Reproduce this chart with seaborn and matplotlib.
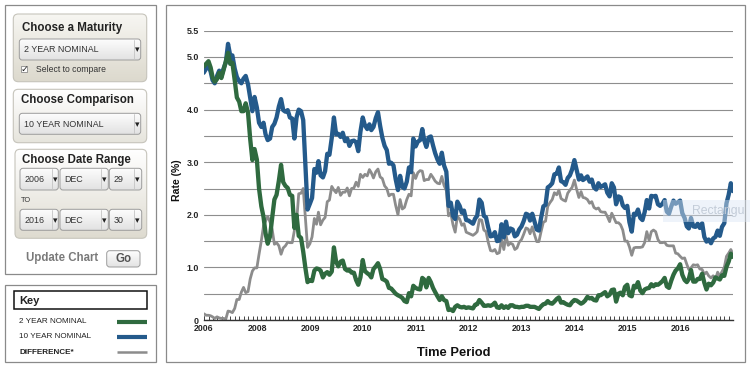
import numpy as np
import pandas as pd
import matplotlib
matplotlib.use('Agg')
import matplotlib.pyplot as plt
import matplotlib.dates as mdates
from matplotlib.patches import FancyBboxPatch, Rectangle
from matplotlib.colors import LinearSegmentedColormap
import seaborn as sns

# Readings from the chart: mid-month and month-end, first point is 2006-12-29
two_year = [4.82,
    4.87, 4.92, 4.80, 4.62, 4.53, 4.58, 4.70, 4.60, 4.75, 4.92, 5.08, 4.87,
    4.89, 4.56, 4.23, 4.15, 3.97, 3.97, 4.12, 3.94, 3.44, 3.04, 3.25, 3.05,
    2.50, 2.16, 1.96, 1.65, 1.45, 1.59, 1.95, 2.29, 2.38, 2.65, 2.95, 2.62,
    2.55, 2.51, 2.38, 2.36, 1.75, 2.00, 1.60, 1.56, 1.30, 0.99, 0.72, 0.76,
    0.74, 0.94, 0.98, 0.97, 0.94, 0.81, 0.88, 0.91, 0.86, 0.92, 1.38, 1.11,
    1.02, 1.11, 1.13, 0.97, 0.94, 0.95, 0.90, 0.90, 0.76, 0.67, 0.81, 1.14,
    0.93, 0.89, 0.86, 0.81, 0.97, 1.02, 1.08, 0.97, 0.78, 0.76, 0.73, 0.61,
    0.60, 0.55, 0.50, 0.47, 0.45, 0.42, 0.36, 0.34, 0.51, 0.45, 0.65, 0.61,
    0.59, 0.58, 0.80, 0.77, 0.62, 0.80, 0.72, 0.61, 0.53, 0.45, 0.38, 0.45,
    0.38, 0.36, 0.19, 0.20, 0.17, 0.25, 0.28, 0.25, 0.24, 0.25, 0.23, 0.24,
    0.23, 0.22, 0.29, 0.30, 0.38, 0.33, 0.27, 0.27, 0.28, 0.27, 0.29, 0.33,
    0.24, 0.23, 0.28, 0.23, 0.26, 0.23, 0.28, 0.28, 0.25, 0.25, 0.24, 0.25,
    0.25, 0.27, 0.27, 0.25, 0.25, 0.25, 0.23, 0.21, 0.26, 0.30, 0.31, 0.36,
    0.32, 0.31, 0.35, 0.40, 0.43, 0.33, 0.34, 0.31, 0.29, 0.28, 0.34, 0.38,
    0.37, 0.34, 0.31, 0.33, 0.37, 0.44, 0.41, 0.42, 0.38, 0.37, 0.47, 0.47,
    0.50, 0.53, 0.45, 0.48, 0.57, 0.58, 0.35, 0.50, 0.52, 0.47, 0.63, 0.67,
    0.47, 0.45, 0.65, 0.62, 0.72, 0.56, 0.51, 0.58, 0.60, 0.61, 0.68, 0.64,
    0.68, 0.67, 0.70, 0.74, 0.80, 0.64, 0.61, 0.75, 0.86, 0.94, 0.98, 1.06,
    0.86, 0.76, 0.72, 0.78, 0.95, 0.73, 0.73, 0.78, 0.78, 0.88, 0.71, 0.58,
    0.69, 0.66, 0.71, 0.81, 0.79, 0.77, 0.85, 0.84, 1.01, 1.11, 1.26, 1.20]

ten_year = [4.70,
    4.78, 4.83, 4.72, 4.56, 4.50, 4.64, 4.74, 4.63, 4.78, 4.90, 5.25, 5.03,
    5.03, 4.78, 4.62, 4.54, 4.50, 4.59, 4.64, 4.48, 4.22, 3.97, 4.24, 4.04,
    3.75, 3.67, 3.75, 3.53, 3.42, 3.45, 3.67, 3.73, 3.85, 4.06, 4.20, 3.99,
    3.96, 3.99, 3.85, 3.83, 3.45, 3.85, 4.00, 3.97, 3.80, 2.93, 2.10, 2.21,
    2.32, 2.87, 2.80, 3.02, 2.75, 2.71, 2.83, 3.16, 3.14, 3.46, 3.85, 3.53,
    3.54, 3.48, 3.56, 3.40, 3.45, 3.31, 3.40, 3.41, 3.38, 3.21, 3.58, 3.85,
    3.70, 3.63, 3.72, 3.61, 3.67, 3.84, 3.95, 3.69, 3.47, 3.31, 3.23, 2.97,
    2.99, 2.94, 2.68, 2.47, 2.74, 2.53, 2.50, 2.63, 2.90, 2.81, 3.45, 3.30,
    3.39, 3.42, 3.63, 3.42, 3.29, 3.47, 3.49, 3.32, 3.17, 3.05, 2.97, 3.18,
    2.94, 2.82, 2.17, 2.23, 1.98, 1.92, 2.25, 2.17, 2.04, 2.08, 1.90, 1.89,
    1.86, 1.83, 1.93, 1.98, 2.29, 2.23, 1.98, 1.95, 1.76, 1.59, 1.60, 1.67,
    1.50, 1.51, 1.82, 1.57, 1.87, 1.65, 1.74, 1.72, 1.59, 1.62, 1.72, 1.78,
    1.88, 2.02, 2.00, 1.89, 2.02, 1.87, 1.72, 1.70, 1.94, 2.16, 2.19, 2.52,
    2.55, 2.60, 2.77, 2.78, 2.90, 2.64, 2.62, 2.57, 2.70, 2.75, 2.86, 3.04,
    2.86, 2.67, 2.75, 2.66, 2.69, 2.73, 2.63, 2.67, 2.52, 2.48, 2.60, 2.53,
    2.55, 2.58, 2.42, 2.35, 2.60, 2.52, 2.20, 2.35, 2.33, 2.18, 2.13, 2.17,
    1.86, 1.68, 2.02, 2.00, 2.10, 1.94, 1.90, 2.05, 2.28, 2.12, 2.36, 2.35,
    2.36, 2.20, 2.17, 2.21, 2.28, 2.06, 2.02, 2.16, 2.27, 2.21, 2.24, 2.27,
    2.03, 1.94, 1.78, 1.74, 1.94, 1.78, 1.77, 1.83, 1.75, 1.84, 1.58, 1.49,
    1.53, 1.46, 1.55, 1.58, 1.70, 1.60, 1.77, 1.84, 2.22, 2.38, 2.60, 2.45]

difference = [0.12,
    0.09, 0.09, 0.08, 0.06, 0.03, 0.06, 0.04, 0.03, 0.03, 0.02, 0.17, 0.16,
    0.14, 0.22, 0.39, 0.39, 0.53, 0.62, 0.52, 0.54, 0.78, 0.93, 0.99, 0.99,
    1.25, 1.51, 1.79, 1.88, 1.97, 1.86, 1.72, 1.44, 1.47, 1.41, 1.25, 1.37,
    1.41, 1.48, 1.47, 1.47, 1.70, 1.85, 2.40, 2.41, 2.50, 1.94, 1.38, 1.45,
    1.58, 1.93, 1.82, 2.05, 1.81, 1.90, 1.95, 2.25, 2.28, 2.54, 2.47, 2.42,
    2.52, 2.37, 2.43, 2.43, 2.51, 2.36, 2.50, 2.51, 2.62, 2.54, 2.77, 2.71,
    2.77, 2.74, 2.86, 2.80, 2.70, 2.82, 2.87, 2.72, 2.69, 2.55, 2.50, 2.36,
    2.39, 2.39, 2.18, 2.00, 2.29, 2.11, 2.14, 2.29, 2.39, 2.36, 2.80, 2.69,
    2.80, 2.84, 2.83, 2.65, 2.67, 2.67, 2.77, 2.71, 2.64, 2.60, 2.59, 2.73,
    2.56, 2.46, 1.98, 2.03, 1.81, 1.67, 1.97, 1.92, 1.80, 1.83, 1.67, 1.65,
    1.63, 1.61, 1.64, 1.68, 1.91, 1.90, 1.71, 1.68, 1.48, 1.32, 1.31, 1.34,
    1.26, 1.28, 1.54, 1.34, 1.61, 1.42, 1.46, 1.44, 1.34, 1.37, 1.48, 1.53,
    1.63, 1.75, 1.73, 1.64, 1.77, 1.62, 1.49, 1.49, 1.68, 1.86, 1.88, 2.16,
    2.23, 2.29, 2.42, 2.38, 2.47, 2.31, 2.28, 2.26, 2.41, 2.47, 2.52, 2.66,
    2.49, 2.33, 2.44, 2.33, 2.32, 2.29, 2.22, 2.25, 2.14, 2.11, 2.13, 2.06,
    2.05, 2.05, 1.97, 1.87, 2.03, 1.94, 1.85, 1.85, 1.81, 1.71, 1.50, 1.50,
    1.39, 1.23, 1.37, 1.38, 1.38, 1.38, 1.39, 1.47, 1.68, 1.51, 1.68, 1.71,
    1.68, 1.53, 1.47, 1.47, 1.48, 1.42, 1.41, 1.41, 1.41, 1.27, 1.26, 1.21,
    1.17, 1.18, 1.06, 0.96, 0.99, 1.05, 1.04, 1.05, 0.97, 0.96, 0.87, 0.91,
    0.84, 0.80, 0.84, 0.77, 0.91, 0.83, 0.92, 1.00, 1.21, 1.27, 1.34, 1.25]

x_tick_labels = ['2006', '2008', '2009', '2010', '2011', '2012', '2013', '2014', '2015', '2016']
y_tick_values = [0, 0.5, 1.0, 1.5, 2.0, 2.5, 3.0, 3.5, 4.0, 4.5, 5.0, 5.5]
y_tick_labels = ['0', '', '1.0', '', '2.0', '', '3.0', '', '4.0', '', '5.0', '5.5']

GREEN = '#2f6a3f'
BLUE = '#245a8b'
GRAY = '#8c8c8c'

# dates: 2006-12-29, then the 15th and last day of each month, ending 2016-12-30
dates = [pd.Timestamp('2006-12-29')]
for m in pd.period_range('2007-01', '2016-12', freq='M'):
    dates.append(m.start_time + pd.Timedelta(days=14))
    dates.append(m.end_time.normalize())
dates[-1] = pd.Timestamp('2016-12-30')

df = pd.DataFrame({'date': dates, 'two': two_year, 'ten': ten_year, 'diff': difference})

sns.set_style('white')
plt.rcParams['font.family'] = ['Liberation Sans', 'DejaVu Sans']

W, H = 750, 368
fig = plt.figure(figsize=(7.5, 3.68), dpi=100)

def fx(x):
    return x / W

def fy(y):
    return 1 - y / H

# background canvas in pixel units for the side panel
bg = fig.add_axes([0, 0, 1, 1], zorder=0)
bg.set_axis_off()


def grad_box(x, y, w, h, top, bottom, edge, r=5, lw=0.8):
    patch = FancyBboxPatch((x, y), w, h, boxstyle=f"round,pad=0,rounding_size={r}",
                           fc='none', ec=edge, lw=lw, zorder=3)
    bg.add_patch(patch)
    grad = np.linspace(0, 1, 64).reshape(-1, 1)
    cmap = LinearSegmentedColormap.from_list('g', [top, bottom])
    im = bg.imshow(grad, cmap=cmap, extent=(x, x + w, y + h, y), aspect='auto', zorder=2)
    im.set_clip_path(patch)


def dropdown(x, y, w, h, label, div):
    grad_box(x, y, w, h, '#fdfdfd', '#e2e2e2', '#9c9c9c', r=3, lw=0.7)
    bg.text(x + 4.5, y + h / 2 + 0.5, label, fontsize=6.4, color='#333333', va='center', zorder=4)
    bg.plot([div, div], [y + 1, y + h - 1], color='#c4c4c4', lw=0.6, zorder=4)
    bg.text(div + (x + w - div) / 2, y + h / 2 + 0.5, '\u25be', fontsize=6.5, color='#222222',
            ha='center', va='center', zorder=4, family=['DejaVu Sans'])


# outer frames
bg.add_patch(Rectangle((5, 5), 150.7, 269, fc='white', ec='#8a8a8a', lw=0.9, zorder=1))
bg.add_patch(Rectangle((5, 285), 150.7, 77, fc='white', ec='#8a8a8a', lw=0.9, zorder=1))
bg.add_patch(Rectangle((166, 5), 579, 357, fc='white', ec='#8a8a8a', lw=0.9, zorder=1))

# Choose a Maturity
grad_box(13.3, 14, 133.4, 67.7, '#f7f6f2', '#dcd9cd', '#c6c4bb')
bg.text(22.5, 28.5, 'Choose a Maturity', fontsize=8.3, fontweight='bold', color='#222222',
        va='center', zorder=4)
dropdown(19.3, 39, 121.4, 21, '2 YEAR NOMINAL', 133.5)
bg.add_patch(Rectangle((21.3, 66.3), 6, 6, fc='white', ec='#777777', lw=0.5, zorder=4))
bg.text(24.4, 69.0, '\u2713', fontsize=6.8, ha='center', va='center', zorder=5,
        family=['DejaVu Sans'], color='#222222')
bg.text(35.5, 70, 'Select to compare', fontsize=6.2, color='#333333', va='center', zorder=4)

# Choose Comparison
grad_box(13.3, 89.3, 133.4, 53.4, '#ffffff', '#e6e4dc', '#c6c4bb')
bg.text(21, 100.5, 'Choose Comparison', fontsize=8.3, fontweight='bold', color='#222222',
        va='center', zorder=4)
dropdown(19.3, 113.3, 121.4, 21, '10 YEAR NOMINAL', 133.5)

# Choose Date Range
grad_box(15, 149.3, 131.7, 89, '#ffffff', '#dedbd0', '#c6c4bb')
bg.text(21.7, 159.5, 'Choose Date Range', fontsize=8.3, fontweight='bold', color='#222222',
        va='center', zorder=4)
dropdown(20, 168.3, 38.3, 21.7, '2006', 51.7)
dropdown(60, 168.3, 48.3, 21.7, 'DEC', 101)
dropdown(109.3, 168.3, 32.4, 21.7, '29', 133.5)
bg.text(20.7, 201, 'TO', fontsize=5.3, color='#333333', va='center', zorder=4)
dropdown(20, 209.3, 38.3, 21, '2016', 51.7)
dropdown(60, 209.3, 48.3, 21, 'DEC', 101)
dropdown(109.3, 209.3, 32.4, 21, '30', 133.5)

# Update chart
bg.text(26.5, 258.5, 'Update Chart', fontsize=8.3, fontweight='bold', color='#7a7a7a',
        va='center', zorder=4)
grad_box(106.7, 250.7, 33.3, 16.3, '#ffffff', '#e3e3e3', '#9c9c9c', r=3, lw=0.7)
bg.text(123.3, 259, 'Go', fontsize=8.3, fontweight='bold', color='#555555',
        ha='center', va='center', zorder=4)

# Key
bg.add_patch(Rectangle((14, 291), 133.3, 18.3, fc='white', ec='#111111', lw=1.1, zorder=3))
bg.text(19, 300.5, 'Key', fontsize=8, fontweight='bold', color='#222222', va='center', zorder=4)
key_items = [('2 YEAR NOMINAL', GREEN, 3.0, 'normal', 321.7),
             ('10 YEAR NOMINAL', BLUE, 3.0, 'normal', 336.7),
             ('DIFFERENCE*', GRAY, 1.8, 'bold', 352.3)]
for name, col, lw, wt, yy in key_items:
    bg.text(19, yy, name, fontsize=5.9, fontweight=wt, color='#222222', va='center', zorder=4)
    bg.plot([117.3, 147.3], [yy, yy], color=col, lw=lw, solid_capstyle='butt', zorder=4)

bg.set_xlim(0, W)
bg.set_ylim(H, 0)

# main chart
ax = fig.add_axes([fx(203.7), fy(320), (733 - 203.7) / W, (320 - 30.7) / H], zorder=1)
ax.set_facecolor('none')

sns.lineplot(data=df, x='date', y='diff', color=GRAY, lw=2.0, ax=ax)
sns.lineplot(data=df, x='date', y='ten', color=BLUE, lw=3.1, ax=ax)
sns.lineplot(data=df, x='date', y='two', color=GREEN, lw=3.1, ax=ax)

ax.set_xlim(dates[0], dates[-1])
ax.set_ylim(0, 5.5)
ax.set_xlabel('')
ax.set_ylabel('')

x_ticks = [dates[0]] + [pd.Timestamp(f'{y}-01-01') for y in range(2008, 2017)]
ax.set_xticks(x_ticks)
ax.set_xticklabels(x_tick_labels, fontweight='bold')
ax.xaxis.set_minor_locator(mdates.MonthLocator())
ax.set_yticks(y_tick_values)
ax.set_yticklabels(y_tick_labels, fontweight='bold')

ax.tick_params(axis='x', which='both', direction='in', length=2.6, width=0.7, color='#444444',
               pad=3.0, labelsize=6.3, bottom=True)
ax.tick_params(axis='y', length=0, pad=3.3, labelsize=6.4)

ax.yaxis.grid(True, color='#8e8e8e', lw=0.8)
ax.xaxis.grid(False)
ax.set_axisbelow(True)
sns.despine(ax=ax, left=True)
ax.spines['bottom'].set_color('#333333')
ax.spines['bottom'].set_linewidth(1.0)

fig.text(fx(176.5), fy(180), 'Rate (%)', rotation=90, fontsize=7.6, fontweight='bold',
         ha='center', va='center', color='#111111')
fig.text(fx(454), fy(353), 'Time Period', fontsize=9.3, fontweight='bold',
         ha='center', va='center', color='#111111')

# faint tooltip left over in the screenshot
ax.add_patch(Rectangle((663, 200), 87, 22, transform=bg.transData, fc='#dbe6f4', alpha=0.45,
                       ec='none', clip_on=False, zorder=5))
ax.text(692, 211, 'Rectangu', transform=bg.transData, fontsize=8.8, color='#c3ccd8',
        va='center', clip_on=False, zorder=6)

fig.savefig('out.png', dpi=100)
